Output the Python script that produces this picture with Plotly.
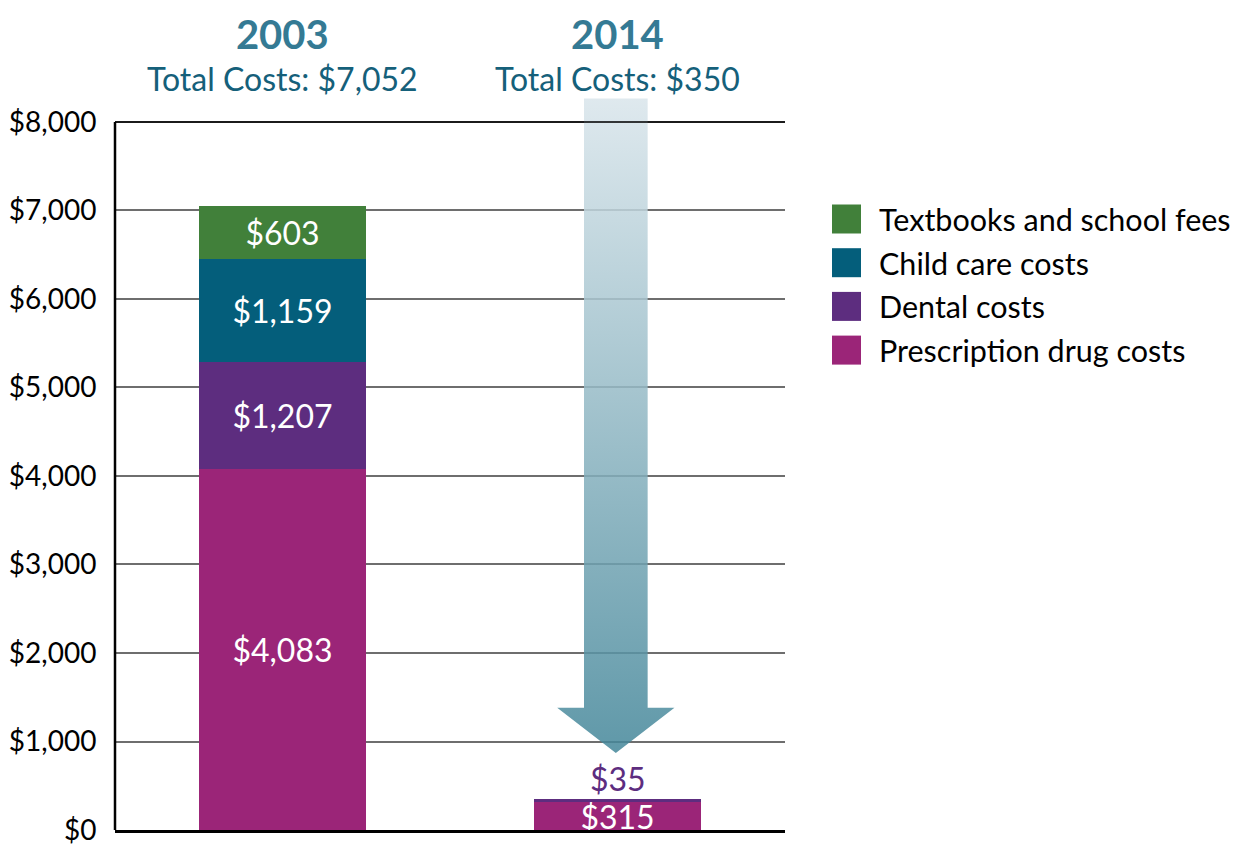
import plotly.graph_objects as go

years = ["2003", "2014"]
totals = [7052, 350]
categories = ["Prescription drug costs", "Dental costs", "Child care costs", "Textbooks and school fees"]
prescription = [4083, 315]
dental = [1207, 35]
child_care = [1159, 0]
textbooks = [603, 0]
colors = ["#9b2578", "#5d2d7f", "#045e7b", "#41803a"]
y_ticks = [0, 1000, 2000, 3000, 4000, 5000, 6000, 7000, 8000]

FONT = "Lato"
series = [prescription, dental, child_care, textbooks]
x_pos = [0, 1]

fig = go.Figure()

# decorative arrow (2003 -> 2014), in data units
arrow_top, head_base, arrow_tip = 8265, 1380, 870
shaft_w, head_w = 0.095, 0.175
ax = 0.995
fig.add_trace(go.Scatter(
    x=[ax - shaft_w, ax + shaft_w, ax + shaft_w, ax + head_w, ax, ax - head_w, ax - shaft_w, ax - shaft_w],
    y=[arrow_top, arrow_top, head_base, head_base, arrow_tip, head_base, head_base, arrow_top],
    mode="lines", line=dict(width=0), fill="toself",
    fillgradient=dict(type="vertical", start=arrow_tip, stop=arrow_top,
                      colorscale=[[0, "rgba(67,134,153,0.85)"], [1, "rgba(217,229,235,0.85)"]]),
    showlegend=False, hoverinfo="skip",
))

for name, vals, col in zip(categories, series, colors):
    fig.add_trace(go.Bar(
        x=x_pos, y=vals, name=name, marker=dict(color=col, line=dict(width=0)),
        width=0.5,
        text=[f"${v:,}" if v >= 100 else "" for v in vals],
        textposition="inside", insidetextanchor="middle",
        textfont=dict(family=FONT, size=32, color="white"),
        showlegend=False,
    ))

# small 2014 dental label above bar
fig.add_annotation(x=1, y=totals[1], text=f"${dental[1]}", showarrow=False, yanchor="bottom",
                   font=dict(family=FONT, size=32, color=colors[1]), yshift=-1)

# year headings: one two-line block per bar
for xv, yr, tot in zip(x_pos, years, totals):
    fig.add_annotation(
        x=xv, xref="x", y=1.060, yref="paper", showarrow=False, yanchor="middle",
        text=f"<span style='font-size:40px;color:#347a94'><b>{yr}</b></span><br>Total Costs: ${tot:,}",
        font=dict(family=FONT, size=32, color="#15607a"), borderpad=0,
    )

# page body adds an 8px offset; plot area wanted at screen x 115-785, y 98-830
OFF = 8
PW, PH, L, T = 670, 732, 115, 98
def px(x):
    return (x - L) / PW
def py(y):
    return (T + PH - y) / PH

# manual legend (top item first), screen pixel positions
for i, (name, col) in enumerate(zip(categories[::-1], colors[::-1])):
    cy = 219 + i * 43.7
    fig.add_shape(type="rect", xref="paper", yref="paper", x0=px(832), x1=px(861),
                  y0=py(cy + 14.5), y1=py(cy - 14.5), fillcolor=col, line=dict(width=0))
    fig.add_annotation(xref="paper", yref="paper", x=px(877), y=py(cy), text=name, showarrow=False,
                       xanchor="left", yanchor="middle", font=dict(family=FONT, size=30.5, color="black"))

# left axis and top line
fig.add_shape(type="line", xref="paper", yref="y", x0=0, x1=0, y0=0, y1=8000,
              line=dict(color="black", width=2.5), layer="above")
fig.add_shape(type="line", xref="paper", yref="y", x0=0, x1=1, y0=8000, y1=8000,
              line=dict(color="black", width=1.5), layer="above")

fig.update_layout(
    barmode="stack",
    width=1243, height=848,
    margin=dict(l=L - OFF, r=1243 - (L + PW - OFF), t=T - OFF, b=848 - (T + PH - OFF), autoexpand=False),
    plot_bgcolor="white", paper_bgcolor="white",
    font=dict(family=FONT, color="black"),
    uniformtext=dict(minsize=32, mode="show"),
    xaxis=dict(range=[-0.5, 1.5], showticklabels=False, showgrid=False, zeroline=False,
               showline=True, linecolor="black", linewidth=2.5, ticks="", automargin=False),
    yaxis=dict(range=[0, 8271], tickvals=y_ticks, ticktext=[f"${v:,}" for v in y_ticks],
               tickfont=dict(family=FONT, size=28, color="black"), showgrid=True,
               gridcolor="#6e6e6e", gridwidth=1.5, zeroline=False, showline=False,
               ticks="outside", ticklen=12, tickcolor="white", automargin=False),
)

fig.write_html("out.html")
